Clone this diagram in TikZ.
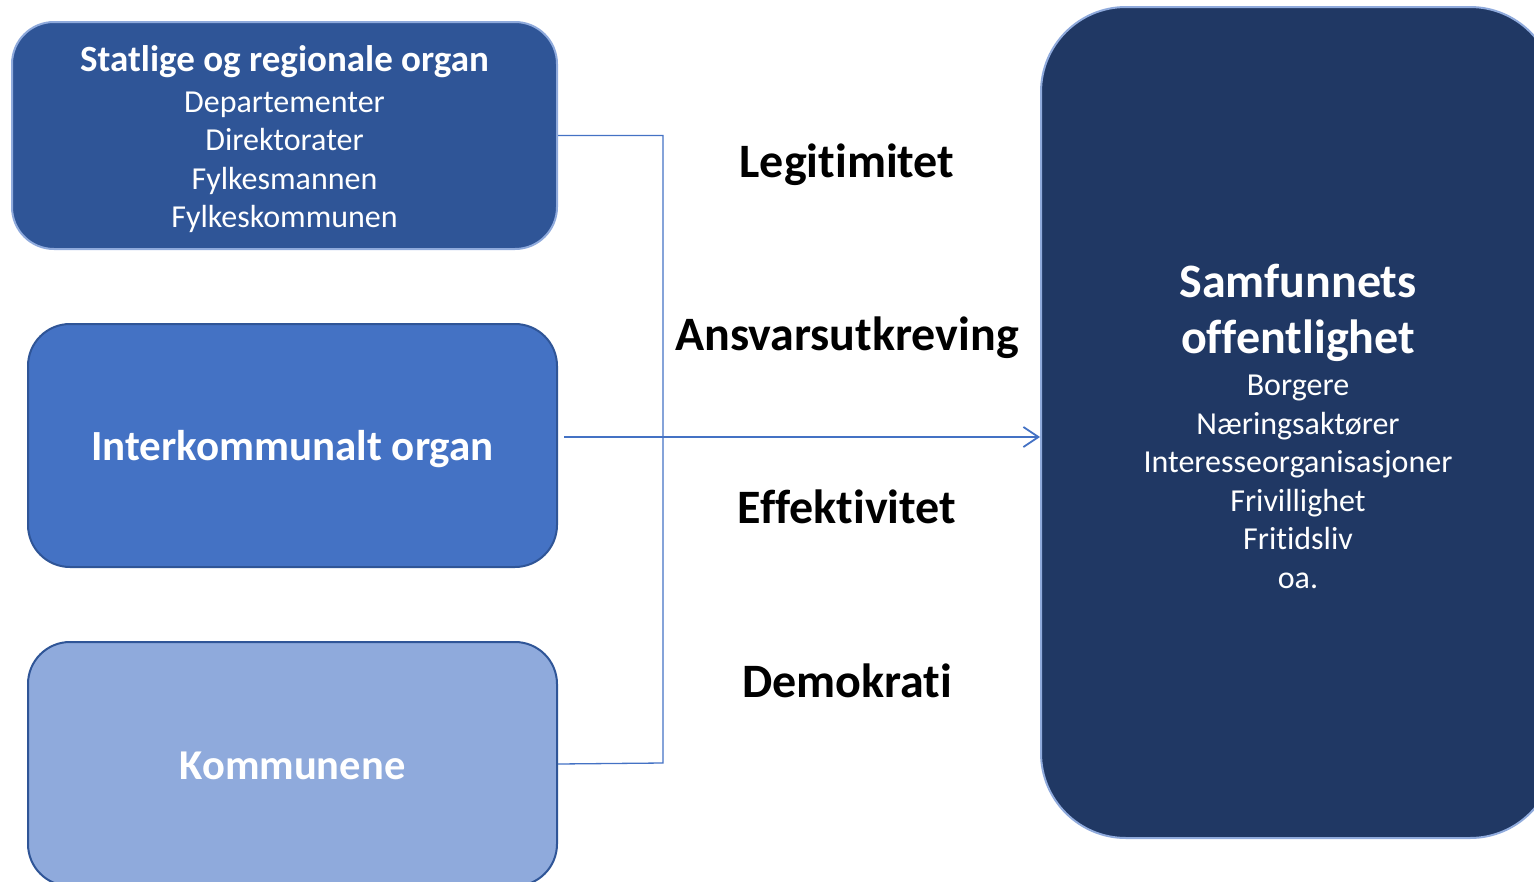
\documentclass[tikz,border=0pt]{standalone}
\usepackage{fontspec}
\setmainfont{Carlito}[Ligatures=NoCommon]
\usetikzlibrary{arrows.meta}
\definecolor{cTop}{HTML}{2F5597}
\definecolor{cMid}{HTML}{4472C4}
\definecolor{cLow}{HTML}{8FAADC}
\definecolor{cRight}{HTML}{203864}
\definecolor{cLine}{HTML}{4472C4}
\newcommand{\bighead}[2]{{\bfseries\fontsize{#1}{#1}\selectfont #2}}
\tikzset{
  orgbox/.style={rounded corners=42pt, line width=2pt, inner sep=0pt},
  boxtext/.style={align=center, text=white, inner sep=0pt, font=\fontsize{32}{38.5}\selectfont},
  topbox/.style={orgbox, fill=cTop, draw=cLow},
  midbox/.style={orgbox, fill=cMid, draw=cTop},
  lowbox/.style={orgbox, fill=cLow, draw=cTop},
  rightbox/.style={orgbox, rounded corners=85pt, fill=cRight, draw=cLow},
  conn/.style={draw=cLine, line width=1.3pt},
  value/.style={font=\bfseries\fontsize{48}{56}\selectfont, text=black},
}
\begin{document}
\begin{tikzpicture}[x=1pt,y=-1pt]
\useasboundingbox (0,0) rectangle (1534,881);
\clip (0,0) rectangle (1534,881);
\node[topbox, minimum width=545pt, minimum height=227pt] (top) at (284.5,135.5) {};
\node[boxtext] (topText) at (284.5,139)
  {\bighead{37}{Statlige og regionale organ}\\[2.5pt]
   Departementer\\ Direktorater\\ Fylkesmannen\\ Fylkeskommunen};
\node[midbox, minimum width=529pt, minimum height=243pt] (mid) at (292.5,445.5) {};
\node[boxtext] (midText) at (292.5,449.5) {\bighead{43}{Interkommunalt organ}};
\node[lowbox, minimum width=529pt, minimum height=244pt] (low) at (292.5,764) {};
\node[boxtext] (lowText) at (292.5,766) {\bighead{42.5}{Kommunene}};
\node[rightbox, minimum width=514pt, minimum height=831pt] (right) at (1298,422.5) {};
\node[boxtext] (rightText) at (1298,426.5)
  {\bighead{48}{Samfunnets}\\[17.5pt] \bighead{48}{offentlighet}\\[3.5pt]
   Borgere\\ Næringsaktører\\ Interesseorganisasjoner\\ Frivillighet\\ Fritidsliv\\ oa.};
\node[value] (v1) at (847,165) {Legitimitet};
\node[value] (v2) at (847,338) {Ansvarsutkreving};
\node[value] (v3) at (847,507) {Effektivitet};
\node[value] (v4) at (847,681) {Demokrati};
\coordinate (jt) at (663,135.5);
\coordinate (jb) at (663,763);
\coordinate (as) at (564,437);
\draw[conn] (top.east) -- (jt) -- (jb) -- (low.east);
\draw[conn, -{Straight Barb[length=15pt,width=20pt,line width=1.8pt]}] (as) -- (as -| right.west);
\end{tikzpicture}
\end{document}
